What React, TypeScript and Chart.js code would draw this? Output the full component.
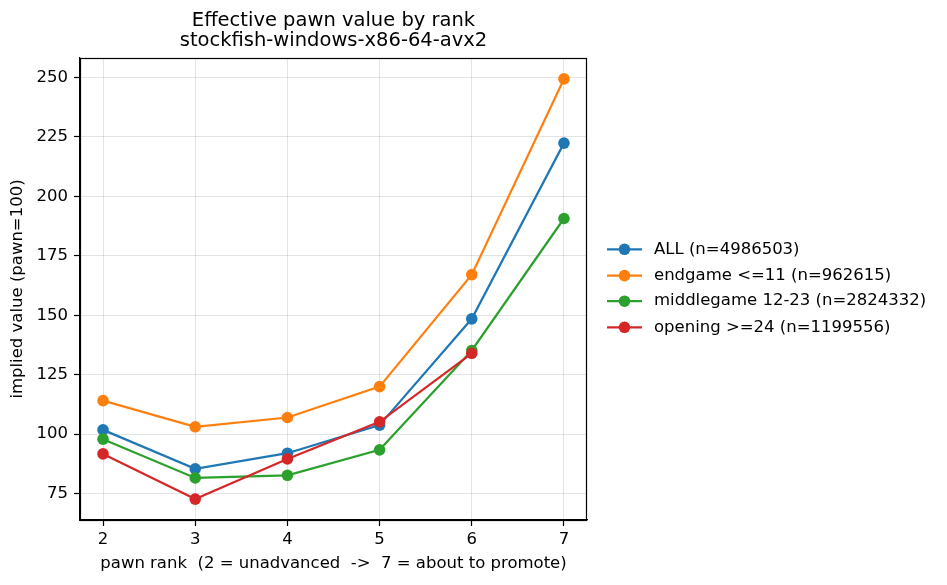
import React, { useEffect, useRef } from "react";
import { Chart, registerables } from "chart.js";

Chart.register(...registerables);

const ranks = [2, 3, 4, 5, 6, 7];
const allValues = [101.8, 85.4, 92.0, 103.8, 148.5, 222.4];
const endgameValues = [114.1, 103.1, 107.0, 120.0, 167.1, 249.4];
const middlegameValues = [97.9, 81.6, 82.7, 93.4, 135.2, 190.7];
const openingValues = [91.7, 72.7, 89.6, 105.2, 134.0, null];
const yTicks = [75, 100, 125, 150, 175, 200, 225, 250];
const seriesLabels = [
  "ALL (n=4986503)",
  "endgame <=11 (n=962615)",
  "middlegame 12-23 (n=2824332)",
  "opening >=24 (n=1199556)",
];
const seriesColors = ["#1f77b4", "#ff7f0e", "#2ca02c", "#d62728"];
const titleLines = ["Effective pawn value by rank", "stockfish-windows-x86-64-avx2"];
const xTitle = "pawn rank  (2 = unadvanced  ->  7 = about to promote)";
const yTitle = "implied value (pawn=100)";

const FONT = "'DejaVu Sans', sans-serif";
const FS = 16.5;
const MR = 5.8;

export default function App() {
  const ref = useRef<HTMLCanvasElement | null>(null);

  useEffect(() => {
    const canvas = ref.current;
    if (!canvas) return;
    const seriesValues = [allValues, endgameValues, middlegameValues, openingValues];
    const datasets = seriesValues.map((vals, i) => ({
      label: seriesLabels[i],
      data: ranks
        .map((r, j) => ({ x: r, y: vals[j] }))
        .filter((p) => p.y !== null && p.y !== undefined),
      borderColor: seriesColors[i],
      backgroundColor: seriesColors[i],
      borderWidth: 2.2,
      pointRadius: MR,
      pointHoverRadius: MR,
      pointBorderWidth: 0,
      tension: 0,
      order: 4 - i,
    }));

    const decor = {
      id: "decor",
      afterDraw(chart: any) {
        const ctx = chart.ctx;
        const a = chart.chartArea;
        ctx.save();
        ctx.strokeStyle = "#000";
        ctx.lineWidth = 1.2;
        ctx.strokeRect(a.left + 0.5, a.top + 0.5, a.right - a.left - 1, a.bottom - a.top);
        ctx.fillStyle = "#000";
        ctx.font = `19.5px ${FONT}`;
        ctx.textAlign = "center";
        ctx.textBaseline = "alphabetic";
        const cx = (a.left + a.right) / 2;
        ctx.fillText(titleLines[0], cx, 26);
        ctx.fillText(titleLines[1], cx, 46);
        const rowY = [249.3, 275.6, 301.2, 327.3];
        ctx.font = `${FS}px ${FONT}`;
        ctx.textAlign = "left";
        ctx.textBaseline = "middle";
        seriesLabels.forEach((lab, i) => {
          const y = rowY[i];
          ctx.strokeStyle = seriesColors[i];
          ctx.lineWidth = 2.2;
          ctx.beginPath();
          ctx.moveTo(607, y);
          ctx.lineTo(642, y);
          ctx.stroke();
          ctx.fillStyle = seriesColors[i];
          ctx.beginPath();
          ctx.arc(624.5, y, MR, 0, Math.PI * 2);
          ctx.fill();
          ctx.fillStyle = "#000";
          ctx.fillText(lab, 654, y);
        });
        ctx.restore();
      },
    };

    const gridOpts = {
      color: "rgba(176,176,176,0.35)",
      lineWidth: 1,
      tickColor: "#000",
      tickLength: 6,
      tickWidth: 1.2,
    };

    const chart = new Chart(canvas, {
      type: "line",
      data: { datasets: datasets as any },
      options: {
        animation: false,
        responsive: false,
        devicePixelRatio: 1,
        events: [],
        layout: { padding: { top: 58, right: 360, left: 0, bottom: 0 } },
        plugins: {
          legend: { display: false },
          title: { display: false },
          tooltip: { enabled: false },
        },
        scales: {
          x: {
            type: "linear",
            min: 1.75,
            max: 7.25,
            afterBuildTicks: (scale: any) => {
              scale.ticks = ranks.map((v) => ({ value: v }));
            },
            afterFit: (scale: any) => {
              scale.height = 65;
            },
            grid: gridOpts,
            border: { display: true, color: "#000", width: 1.2 },
            ticks: {
              color: "#000",
              font: { family: FONT, size: FS },
              padding: 3.5,
              maxRotation: 0,
              autoSkip: false,
              callback: (v: any) => String(v),
            },
            title: {
              display: true,
              text: xTitle,
              color: "#000",
              font: { family: FONT, size: FS },
              padding: { top: 0, bottom: 11 },
            },
          },
          y: {
            type: "linear",
            min: 63.9,
            max: 258.2,
            afterBuildTicks: (scale: any) => {
              scale.ticks = yTicks.map((v) => ({ value: v }));
            },
            afterFit: (scale: any) => {
              scale.width = 80;
            },
            grid: gridOpts,
            border: { display: true, color: "#000", width: 1.2 },
            ticks: {
              color: "#000",
              font: { family: FONT, size: FS },
              padding: 6,
              autoSkip: false,
              callback: (v: any) => String(v),
            },
            title: {
              display: true,
              text: yTitle,
              color: "#000",
              font: { family: FONT, size: FS },
              padding: { top: 8, bottom: 0 },
            },
          },
        },
      },
      plugins: [decor],
    });
    return () => chart.destroy();
  }, []);

  return (
    <div style={{ position: "fixed", left: 0, top: 0, width: 947, height: 585, background: "#fff" }}>
      <canvas ref={ref} width={947} height={585} style={{ display: "block" }} />
    </div>
  );
}
